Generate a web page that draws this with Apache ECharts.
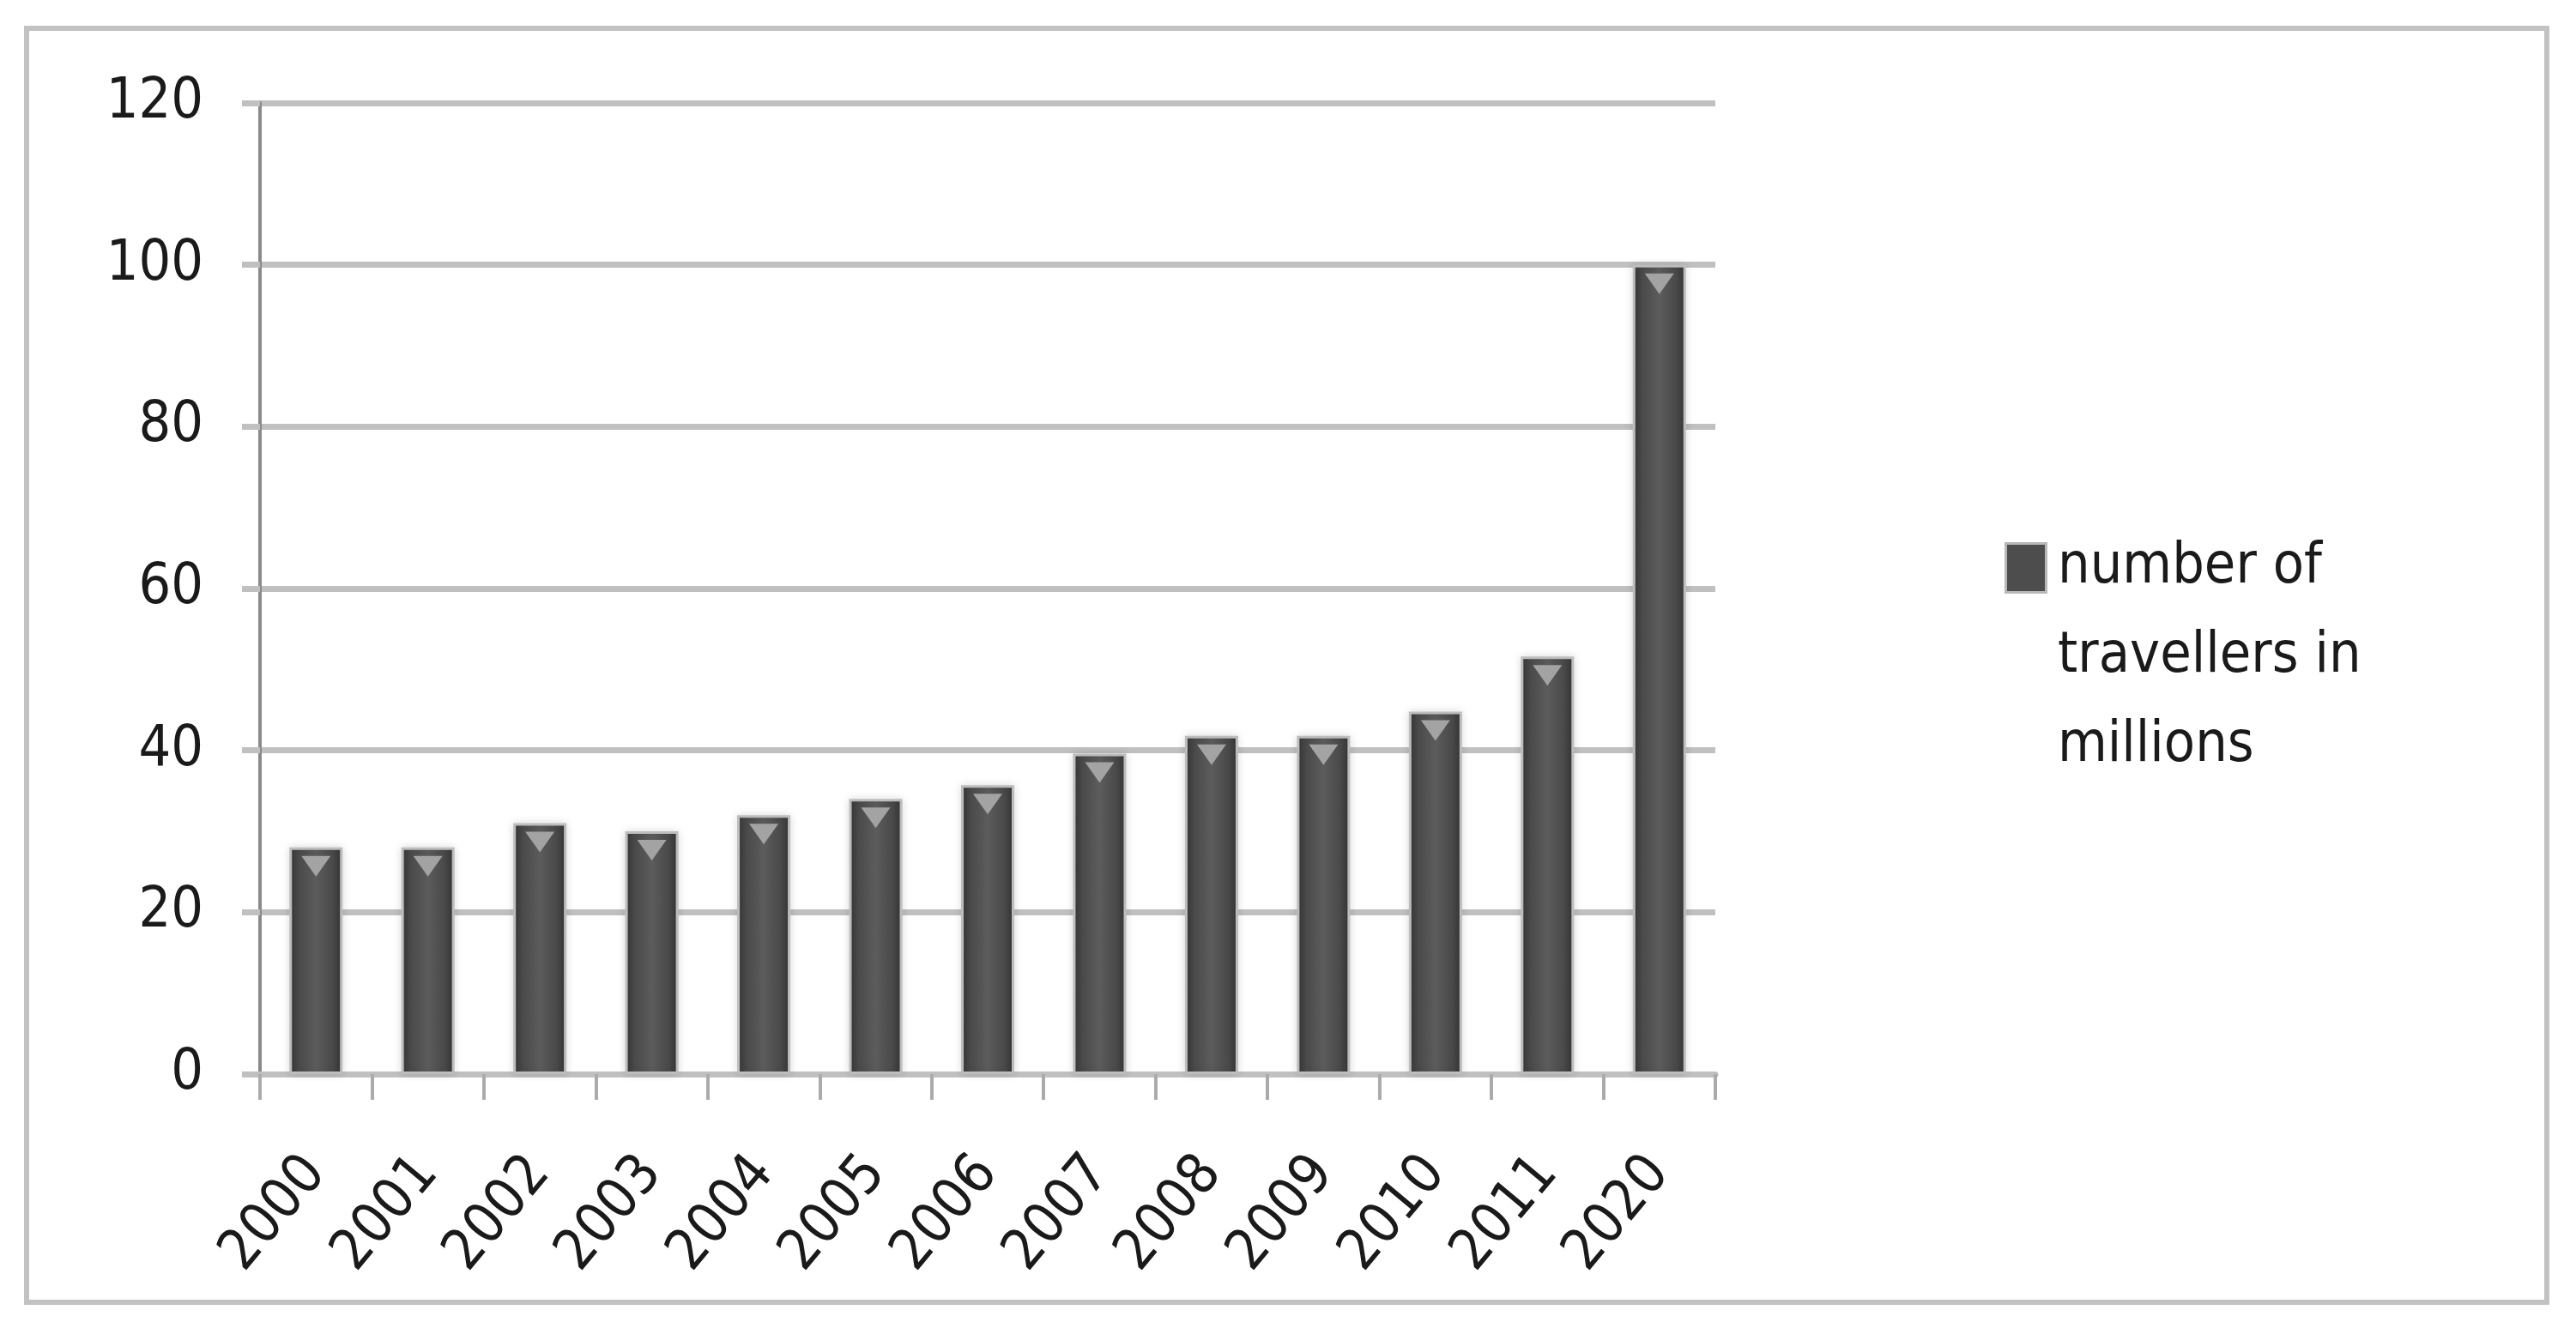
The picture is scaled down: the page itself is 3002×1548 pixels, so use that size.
<!DOCTYPE html>
<html>
<head>
<meta charset="utf-8">
<script src="https://cdn.jsdelivr.net/npm/echarts@6/dist/echarts.min.js"></script>
<style>
  html, body { margin: 0; padding: 0; background: #ffffff; }
  #chart { width: 3002px; height: 1548px; }
</style>
</head>
<body>
<div id="chart"></div>
<script>
const years = ['2000','2001','2002','2003','2004','2005','2006','2007','2008','2009','2010','2011','2020'];
const travellers = [28, 28, 31, 30, 32, 34, 35.7, 39.6, 41.8, 41.8, 44.8, 51.6, 100];
const yTicks = [0, 20, 40, 60, 80, 100, 120];
const seriesName = 'number of travellers in millions';
const legendLines = ['number of', 'travellers in', 'millions'];

const FONT = '"DejaVu Sans Condensed", "DejaVu Sans", sans-serif';
const LH = 104;
const FS = 66;

const chart = echarts.init(document.getElementById('chart'), null, { renderer: 'canvas' });

const barGradient = new echarts.graphic.LinearGradient(0, 0, 1, 0, [
  { offset: 0, color: '#363636' },
  { offset: 0.18, color: '#4a4a4a' },
  { offset: 0.5, color: '#5c5c5c' },
  { offset: 0.82, color: '#494949' },
  { offset: 1, color: '#343434' }
]);

chart.setOption({
  backgroundColor: '#ffffff',
  animation: false,
  graphic: [{
    type: 'rect',
    shape: { x: 31, y: 33, width: 2937, height: 1485 },
    style: { fill: 'none', stroke: '#c2c2c2', lineWidth: 6 },
    z: 0
  }],
  grid: { left: 303, right: 1003, top: 120, bottom: 296, containLabel: false },
  legend: {
    data: [seriesName],
    orient: 'vertical',
    left: 2328,
    top: 605,
    itemWidth: 0,
    itemHeight: 0,
    itemGap: 0,
    selectedMode: false,
    formatter: function () {
      return '{i|}{g|}{t|' + legendLines[0] + '}\n{s|}{t|' + legendLines[1] + '}\n{s|}{t|' + legendLines[2] + '}';
    },
    textStyle: {
      fontFamily: FONT,
      fontSize: FS,
      color: '#1a1a1a',
      lineHeight: LH,
      rich: {
        i: { width: 44, height: 54, backgroundColor: '#4d4d4d', borderColor: '#b8b8b8', borderWidth: 3, verticalAlign: 'middle', lineHeight: LH },
        g: { width: 15, height: 10, verticalAlign: 'middle', lineHeight: LH },
        s: { width: 59, height: 10, verticalAlign: 'middle', lineHeight: LH },
        t: { fontFamily: FONT, fontSize: FS, color: '#1a1a1a', verticalAlign: 'middle', lineHeight: LH }
      }
    }
  },
  xAxis: {
    type: 'category',
    data: years,
    axisLine: { show: true, lineStyle: { color: '#c0c0c0', width: 7 } },
    axisTick: { show: true, length: 30, lineStyle: { color: '#ababab', width: 4 } },
    axisLabel: {
      rotate: 50,
      margin: 105,
      fontFamily: FONT,
      fontSize: FS,
      color: '#1a1a1a',
      interval: 0
    },
    splitLine: { show: false }
  },
  yAxis: {
    type: 'value',
    min: 0,
    max: 120,
    interval: 20,
    axisLine: { show: true, lineStyle: { color: '#8a8a8a', width: 4 } },
    axisTick: { show: true, length: 21, lineStyle: { color: '#c0c0c0', width: 7 } },
    axisLabel: {
      margin: 66,
      fontFamily: FONT,
      fontSize: FS,
      color: '#1a1a1a',
      formatter: function (v) { return yTicks.indexOf(v) >= 0 ? String(v) : ''; }
    },
    splitLine: { show: true, lineStyle: { color: '#c0c0c0', width: 7 } }
  },
  series: [
    {
      name: seriesName,
      type: 'bar',
      data: travellers,
      barWidth: 62,
      itemStyle: {
        color: barGradient,
        borderColor: '#bdbdbd',
        borderWidth: 3,
        shadowBlur: 10,
        shadowColor: 'rgba(0,0,0,0.12)'
      },
      z: 3
    },
    {
      name: 'gloss',
      type: 'scatter',
      data: travellers,
      symbol: 'triangle',
      symbolRotate: 180,
      symbolSize: [34, 24],
      symbolOffset: [0, 22],
      silent: true,
      itemStyle: { color: '#a3a3a3', opacity: 1 },
      z: 4
    }
  ]
});
</script>
</body>
</html>
